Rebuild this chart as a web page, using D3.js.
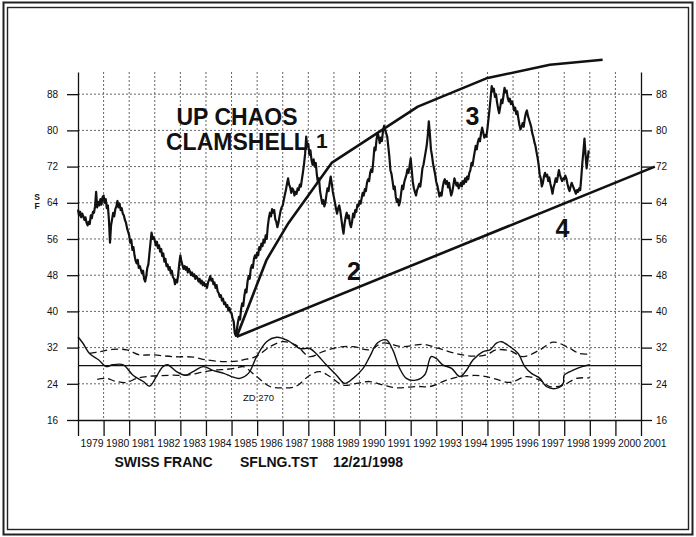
<!DOCTYPE html>
<html>
<head>
<meta charset="utf-8">
<script src="https://cdn.jsdelivr.net/npm/d3@7"></script>
<style>
  body { margin: 0; background: #fff; }
  svg { display: block; font-family: "Liberation Sans", Arial, Helvetica, sans-serif; }
</style>
</head>
<body>
<svg id="chart" width="696" height="537"></svg>
<script>
const WIDTH = 696;
const HEIGHT = 537;
const PLOT_LEFT = 78; //left axis
const PLOT_RIGHT = 641; //right axis
const PLOT_TOP = 72; //top of the axes
const PLOT_BOTTOM = 420; //value 16

// data
const years = d3.range(1979, 2002); //tick years 1979..2001
const yTicks = [16, 24, 32, 40, 48, 56, 64, 72, 80, 88];
const PRICE_START = 1979;
const PRICE_STEPS = 24; //values per year
const price = [
  62.5, 61.2, 62.0, 60.8, 61.6, 61.0, 60.2, 60.8, 59.6, 59.0, 59.8, 59.3, 61.2, 60.6, 62.0, 61.8, 63.2, 66.4, 63.0, 64.2, 63.4, 64.8, 63.6, 65.2, //1979
  65.6, 64.0, 64.8, 62.8, 63.4, 60.2, 55.2, 59.0, 60.4, 61.8, 61.0, 62.6, 63.2, 64.4, 63.0, 63.8, 62.4, 62.8, 61.6, 61.2, 60.2, 59.6, 58.4, 57.6, //1980
  56.8, 55.2, 55.8, 53.6, 54.2, 52.4, 51.2, 50.6, 51.4, 49.6, 50.0, 49.2, 48.4, 49.0, 47.2, 46.6, 47.8, 49.6, 50.4, 52.8, 55.2, 57.4, 56.0, 56.4, //1981
  55.6, 54.6, 55.4, 54.0, 54.6, 53.2, 53.8, 52.2, 52.8, 51.0, 51.6, 50.0, 50.4, 49.2, 49.8, 48.4, 49.0, 47.6, 47.2, 46.0, 47.0, 46.4, 48.2, 50.6, //1982
  52.4, 51.0, 50.2, 49.4, 50.0, 49.2, 49.8, 48.6, 49.4, 48.8, 48.0, 48.6, 47.8, 48.2, 47.2, 47.8, 47.4, 46.6, 47.2, 46.2, 46.8, 45.8, 46.4, 45.6, //1983
  46.0, 45.2, 46.4, 47.0, 47.8, 46.8, 47.2, 46.0, 46.4, 45.2, 45.8, 44.4, 44.0, 43.2, 43.6, 42.4, 42.8, 41.6, 42.0, 41.0, 41.4, 40.2, 40.8, 39.8, //1984
  39.6, 38.4, 37.8, 35.2, 34.6, 36.0, 37.6, 38.8, 38.2, 40.6, 41.8, 41.2, 43.4, 44.8, 44.2, 46.6, 47.8, 47.2, 49.4, 50.2, 49.6, 51.6, 52.4, 51.8, //1985
  53.0, 52.4, 54.2, 53.6, 55.0, 54.4, 55.8, 55.2, 56.8, 56.0, 58.8, 60.6, 61.8, 61.0, 62.6, 61.8, 62.4, 60.4, 59.8, 58.6, 59.6, 61.0, 62.2, 63.0, //1986
  63.4, 64.6, 65.8, 66.8, 68.2, 69.4, 68.0, 67.4, 66.2, 67.2, 66.8, 65.6, 66.4, 66.0, 67.2, 66.8, 68.0, 67.6, 69.2, 70.8, 72.6, 74.8, 78.6, 76.4, //1987
  77.0, 74.6, 75.6, 73.4, 72.4, 73.6, 72.0, 72.8, 70.2, 68.6, 69.4, 66.6, 65.2, 63.8, 64.6, 63.2, 64.0, 65.8, 67.2, 66.6, 68.4, 69.8, 68.2, 66.4, //1988
  65.2, 64.0, 62.6, 61.6, 62.8, 63.4, 62.2, 60.4, 58.6, 57.2, 59.4, 60.8, 61.8, 60.6, 61.2, 59.4, 58.6, 59.8, 61.6, 60.8, 62.4, 62.0, 63.6, 63.2, //1989
  64.4, 63.8, 65.0, 66.2, 65.6, 67.0, 66.6, 68.4, 69.2, 68.8, 70.6, 71.4, 70.8, 73.4, 76.2, 75.6, 78.0, 79.4, 78.6, 77.2, 78.4, 77.6, 79.8, 81.0, //1990
  80.2, 79.4, 78.6, 76.4, 74.2, 71.2, 70.4, 68.8, 67.0, 67.6, 65.4, 64.2, 64.8, 63.4, 64.2, 66.0, 67.8, 67.0, 68.6, 69.4, 70.2, 71.4, 70.6, 72.2, //1991
  73.8, 71.2, 68.6, 67.2, 66.4, 65.6, 66.8, 67.4, 68.2, 67.6, 69.4, 71.6, 72.4, 73.8, 75.2, 76.6, 78.8, 82.0, 79.2, 75.8, 74.4, 72.6, 71.4, 70.2, //1992
  68.6, 67.8, 66.6, 65.4, 66.2, 65.6, 67.4, 68.6, 69.2, 68.2, 68.8, 67.4, 68.4, 66.8, 65.6, 66.4, 67.8, 69.4, 68.6, 67.8, 68.4, 67.2, 67.8, 68.4, //1993
  67.6, 68.8, 68.2, 69.4, 68.6, 69.8, 69.2, 70.6, 71.2, 72.8, 72.2, 73.8, 75.2, 76.6, 75.8, 77.4, 78.2, 77.6, 79.4, 80.6, 79.6, 78.4, 79.0, 78.6, //1994
  80.4, 82.6, 84.8, 87.2, 89.8, 88.6, 89.2, 87.4, 88.0, 86.2, 84.8, 83.8, 85.2, 86.8, 86.0, 87.6, 89.4, 88.4, 88.8, 87.2, 86.4, 87.0, 85.8, 86.4, //1995
  85.6, 84.4, 85.0, 83.6, 84.2, 82.6, 81.2, 80.2, 80.8, 81.6, 80.8, 82.6, 83.8, 84.4, 83.2, 82.4, 81.6, 80.8, 79.4, 78.6, 77.4, 76.6, 75.2, 74.0, //1996
  72.4, 70.2, 69.4, 67.6, 68.4, 69.8, 70.6, 69.8, 70.2, 68.8, 69.6, 68.2, 67.2, 66.0, 67.4, 68.2, 69.4, 68.6, 69.8, 71.2, 70.2, 69.4, 68.8, 69.4, //1997
  69.2, 70.0, 69.4, 68.2, 67.2, 66.6, 67.6, 68.4, 67.8, 67.2, 66.6, 66.0, 66.8, 66.4, 67.2, 66.8, 69.6, 72.8, 75.4, 78.2, 74.6, 71.6, 73.8, 75.6  //1998
];
// zero-line oscillator (ZD 270) and its two dashed bands, [year, value]
const oscLine = [[1979.0,34.4],[1979.2,32.9],[1979.45,30.7],[1979.8,29.3],[1980.1,27.8],[1980.35,28.2],[1980.77,28.2],[1981.15,25.9],[1981.55,24.5],[1981.8,23.5],[1982.06,25.6],[1982.32,27.8],[1982.5,28.2],[1982.85,26.7],[1983.2,25.9],[1983.5,26.7],[1983.9,27.8],[1984.3,26.9],[1984.7,26.3],[1985.0,25.6],[1985.33,25.2],[1985.66,26.3],[1985.98,30],[1986.37,33.3],[1986.77,34.3],[1987.22,33.5],[1987.67,31.8],[1988.06,31.8],[1988.3,30.7],[1988.7,28.2],[1989.1,25.9],[1989.42,24.1],[1989.75,25.2],[1990.14,27.4],[1990.4,30],[1990.7,33],[1991.05,33.7],[1991.3,31.5],[1991.57,27.4],[1991.83,25.2],[1992.2,24.8],[1992.55,26],[1992.8,30],[1993.0,29.6],[1993.25,28.2],[1993.6,27.4],[1993.92,25.6],[1994.18,27],[1994.44,29.3],[1994.83,31.1],[1995.1,31.5],[1995.35,33],[1995.55,33.3],[1995.88,32.2],[1996.2,30.7],[1996.46,27.8],[1996.72,26.3],[1997.05,25.2],[1997.3,23.4],[1997.7,23],[1997.96,24.1],[1998.0,25.9],[1998.35,27],[1998.7,27.8],[1999.0,28.2]];
const oscUpper = [[1979.45,30.7],[1979.85,31.1],[1980.35,31.6],[1980.9,31.5],[1981.4,30.4],[1981.9,30.4],[1982.7,30],[1983.5,29.9],[1984.0,29.3],[1984.7,28.9],[1985.2,29.0],[1985.46,29.3],[1985.98,30.1],[1986.5,32.2],[1987.0,33.3],[1987.5,32.6],[1988.05,30],[1988.57,31.1],[1989.2,32.1],[1989.75,32.2],[1990.4,31.5],[1990.9,33],[1991.7,32.2],[1992.5,32.7],[1993.1,31.8],[1993.75,30.7],[1994.44,30.1],[1994.96,30.4],[1995.35,31.5],[1995.88,31.3],[1996.4,30],[1997.05,31.5],[1997.57,33.2],[1998.1,32.2],[1998.6,30.7],[1999.0,30.6]];
const oscLower = [[1979.75,25],[1980.1,25.2],[1980.5,24.5],[1980.9,24.3],[1981.3,25.2],[1981.7,25.6],[1982.2,25.8],[1982.7,25.9],[1983.25,25.9],[1983.8,26.5],[1984.3,27],[1984.8,27.2],[1985.2,27.5],[1985.46,27.8],[1985.98,25.6],[1986.5,23.4],[1987.0,23.1],[1987.5,23.4],[1988.06,25.9],[1988.45,26.7],[1988.84,25.6],[1989.36,23.7],[1989.89,24.1],[1990.4,24.5],[1990.93,23.7],[1991.45,23.1],[1992.23,23.4],[1992.75,23.4],[1993.4,24.8],[1993.92,25.6],[1994.7,25.8],[1995.23,25.2],[1995.88,24.3],[1996.53,25.6],[1997.05,24.8],[1997.44,23.4],[1997.96,23.7],[1998.48,25.2],[1999.0,25.3]];
const zeroLevel = 28;
// clamshell lines
const clamUpper = [[1985.2,34.4],[1986.37,51.4],[1987.22,59.5],[1988.91,72.8],[1992.28,85.25],[1994.96,91.5],[1997.44,94.5],[1999.5,95.6]];
const clamLower = [[1985.2,34.4],[2001.54,72.0]];
const waveLabels = [["1",1988.53,76.0],["2",1989.78,46.9],["3",1994.41,81.2],["4",1997.93,56.5]];

var xScale = d3.scaleLinear().domain([1979, 2001]).range([PLOT_LEFT, PLOT_RIGHT]);
var yScale = d3.scaleLinear().domain([16, 92.9]).range([PLOT_BOTTOM, PLOT_TOP]);

var svg = d3.select("#chart");

// double frame round the page
svg.append("rect").attr("x", 3.5).attr("y", 2.5).attr("width", WIDTH - 7).attr("height", HEIGHT - 5)
  .attr("fill", "none").attr("stroke", "#222").attr("stroke-width", 2);
svg.append("rect").attr("x", 7.5).attr("y", 7.5).attr("width", WIDTH - 15).attr("height", HEIGHT - 15)
  .attr("fill", "none").attr("stroke", "#222").attr("stroke-width", 1.4);

// dotted grid
var grid = svg.append("g").attr("stroke", "#555").attr("stroke-width", 0.9).attr("stroke-dasharray", "2,2");
grid.selectAll(".vgrid")
  .data(years.slice(1, -1))
  .enter().append("line")
  .attr("x1", d => xScale(d)).attr("x2", d => xScale(d))
  .attr("y1", PLOT_TOP).attr("y2", PLOT_BOTTOM);
grid.selectAll(".hgrid")
  .data(yTicks.slice(1))
  .enter().append("line")
  .attr("x1", PLOT_LEFT).attr("x2", PLOT_RIGHT)
  .attr("y1", d => yScale(d)).attr("y2", d => yScale(d));

// axes
var leftAxis = svg.append("g")
  .attr("transform", "translate(" + PLOT_LEFT + ",0)")
  .call(d3.axisLeft(yScale).tickValues(yTicks).tickSize(11).tickSizeOuter(0).tickPadding(9));
var rightAxis = svg.append("g")
  .attr("transform", "translate(" + PLOT_RIGHT + ",0)")
  .call(d3.axisRight(yScale).tickValues(yTicks).tickSize(11).tickSizeOuter(0).tickPadding(4));
var bottomAxis = svg.append("g")
  .attr("transform", "translate(0," + PLOT_BOTTOM + ")")
  .call(d3.axisBottom(xScale).tickValues(years).tickFormat(d3.format("d")).tickSize(16).tickSizeOuter(0));
bottomAxis.selectAll("text") //labels sit just right of each tick
  .attr("text-anchor", "start")
  .attr("x", 2)
  .attr("y", 26.5)
  .attr("dy", 0)
  .style("font-size", "10.4px");
[leftAxis, rightAxis, bottomAxis].forEach(a => {
  a.selectAll("path, line").attr("stroke", "#111").attr("stroke-width", 1.3);
  a.selectAll("text").attr("fill", "#111").style("font-family", "inherit");
});
leftAxis.selectAll("text").style("font-size", "10px");
rightAxis.selectAll("text").style("font-size", "10px");

// S F label
svg.append("text").attr("x", 37).attr("y", 199.5).attr("text-anchor", "middle")
  .style("font-size", "8.5px").style("font-weight", "bold").attr("fill", "#111").text("S");
svg.append("text").attr("x", 37).attr("y", 208.5).attr("text-anchor", "middle")
  .style("font-size", "8.5px").style("font-weight", "bold").attr("fill", "#111").text("F");

// oscillator
var oscPath = d3.line().x(d => xScale(d[0])).y(d => yScale(d[1])).curve(d3.curveCatmullRom);
svg.append("line")
  .attr("x1", PLOT_LEFT).attr("x2", PLOT_RIGHT)
  .attr("y1", yScale(zeroLevel)).attr("y2", yScale(zeroLevel))
  .attr("stroke", "#111").attr("stroke-width", 1.3);
svg.append("path").datum(oscUpper).attr("d", oscPath)
  .attr("fill", "none").attr("stroke", "#111").attr("stroke-width", 1.3).attr("stroke-dasharray", "7,4");
svg.append("path").datum(oscLower).attr("d", oscPath)
  .attr("fill", "none").attr("stroke", "#111").attr("stroke-width", 1.3).attr("stroke-dasharray", "7,4");
svg.append("path").datum(oscLine).attr("d", oscPath)
  .attr("fill", "none").attr("stroke", "#111").attr("stroke-width", 1.4);
svg.append("text").attr("x", 243).attr("y", 400.5)
  .style("font-size", "9.5px").attr("fill", "#111").text("ZD 270");

// price
var priceLine = d3.line()
  .x((d, i) => xScale(PRICE_START + i / PRICE_STEPS))
  .y(d => yScale(d));
svg.append("path").datum(price).attr("d", priceLine)
  .attr("fill", "none").attr("stroke", "#111").attr("stroke-width", 2.2).attr("stroke-linejoin", "round");

// clamshell lines
var clamPath = d3.line().x(d => xScale(d[0])).y(d => yScale(d[1]));
[clamUpper, clamLower].forEach(c => {
  svg.append("path").datum(c).attr("d", clamPath)
    .attr("fill", "none").attr("stroke", "#111").attr("stroke-width", 2.6).attr("stroke-linejoin", "round");
});

// titles
svg.append("text").attr("x", 176.5).attr("y", 125)
  .style("font-size", "23px").style("font-weight", "bold").attr("fill", "#111").text("UP CHAOS");
svg.append("text").attr("x", 166).attr("y", 150)
  .style("font-size", "23px").style("font-weight", "bold").attr("fill", "#111").text("CLAMSHELL");
svg.selectAll(".wave")
  .data(waveLabels)
  .enter().append("text")
  .attr("x", d => xScale(d[1])).attr("y", d => yScale(d[2]))
  .attr("text-anchor", "middle")
  .style("font-size", d => d[0] === "1" ? "21px" : "25px")
  .style("font-weight", "bold").attr("fill", "#111")
  .text(d => d[0]);

// caption
const caption = [["SWISS FRANC", 114.5], ["SFLNG.TST", 240], ["12/21/1998", 333]];
svg.selectAll(".caption")
  .data(caption)
  .enter().append("text")
  .attr("x", d => d[1]).attr("y", 467)
  .style("font-size", "14px").style("font-weight", "bold").attr("fill", "#111")
  .text(d => d[0]);
</script>
</body>
</html>
